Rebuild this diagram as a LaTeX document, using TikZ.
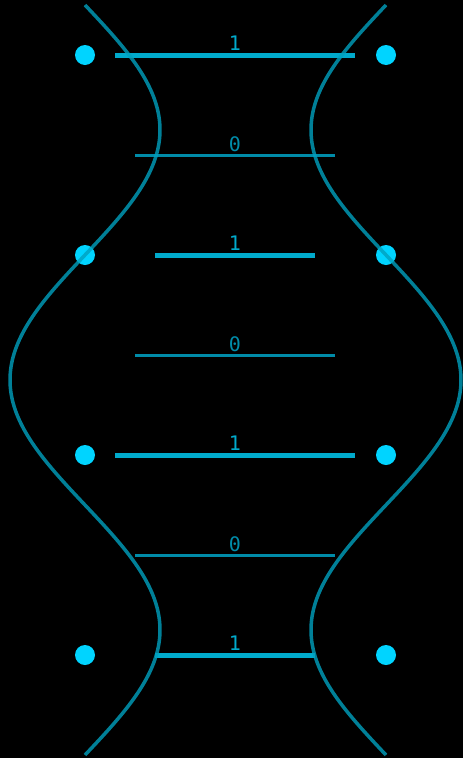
\documentclass[tikz,border=0pt]{standalone}
\usepackage{fontspec}
\setmonofont{DejaVu Sans Mono}
\usepackage{tikz}
\usetikzlibrary{positioning}
\definecolor{bitCyan}{RGB}{0,212,255}
\definecolor{bitOne}{RGB}{0,170,204}
\definecolor{bitZero}{RGB}{0,139,168}
\definecolor{strand}{RGB}{0,160,190}
\tikzset{
  site/.style    = {circle, fill=bitCyan, inner sep=0pt, minimum size=20pt},
  rungone/.style = {bitOne, line width=5pt},
  rungzero/.style= {bitZero, line width=3pt},
  strandln/.style= {strand, opacity=0.8, line width=3.5pt},
  bitlab/.style  = {font=\ttfamily\fontsize{20}{20}\selectfont, inner sep=0pt, anchor=base}
}

\begin{document}
\begin{tikzpicture}[x=1pt, y=-1pt]

\fill[black] (0,0) rectangle (463,758);
\useasboundingbox (0,0) rectangle (463,758);

% sites on both sides
\foreach \i/\y in {1/55, 2/255, 3/455, 4/655} {
  \node[site] (sl\i) at (85,\y) {};
  \node[site] (sr\i) at (386,\y) {};
}

% rungs: y / left x / right x / bit / style
\foreach \i/\y/\xa/\xb/\b/\st in {1/55/115/355/1/rungone, 2/155/135/335/0/rungzero,
    3/255/155/315/1/rungone, 4/355/135/335/0/rungzero, 5/455/115/355/1/rungone,
    6/555/135/335/0/rungzero, 7/655/155/315/1/rungone} {
  \coordinate (rl\i) at (\xa,\y);
  \coordinate (rr\i) at (\xb,\y);
  \draw[\st] (rl\i) -- (rr\i);
  \ifnum\b=1
    \node[bitlab, text=bitOne] (lab\i) at (235,\y-5) {\b};
  \else
    \node[bitlab, text=bitZero] (lab\i) at (235,\y-4) {\b};
  \fi
}

% the two strands
\draw[strandln] plot[domain=5:755, samples=160, smooth] ({85+75*sin(0.72*(\x-5))}, \x);
\draw[strandln] plot[domain=5:755, samples=160, smooth] ({386-75*sin(0.72*(\x-5))}, \x);

\end{tikzpicture}
\end{document}
